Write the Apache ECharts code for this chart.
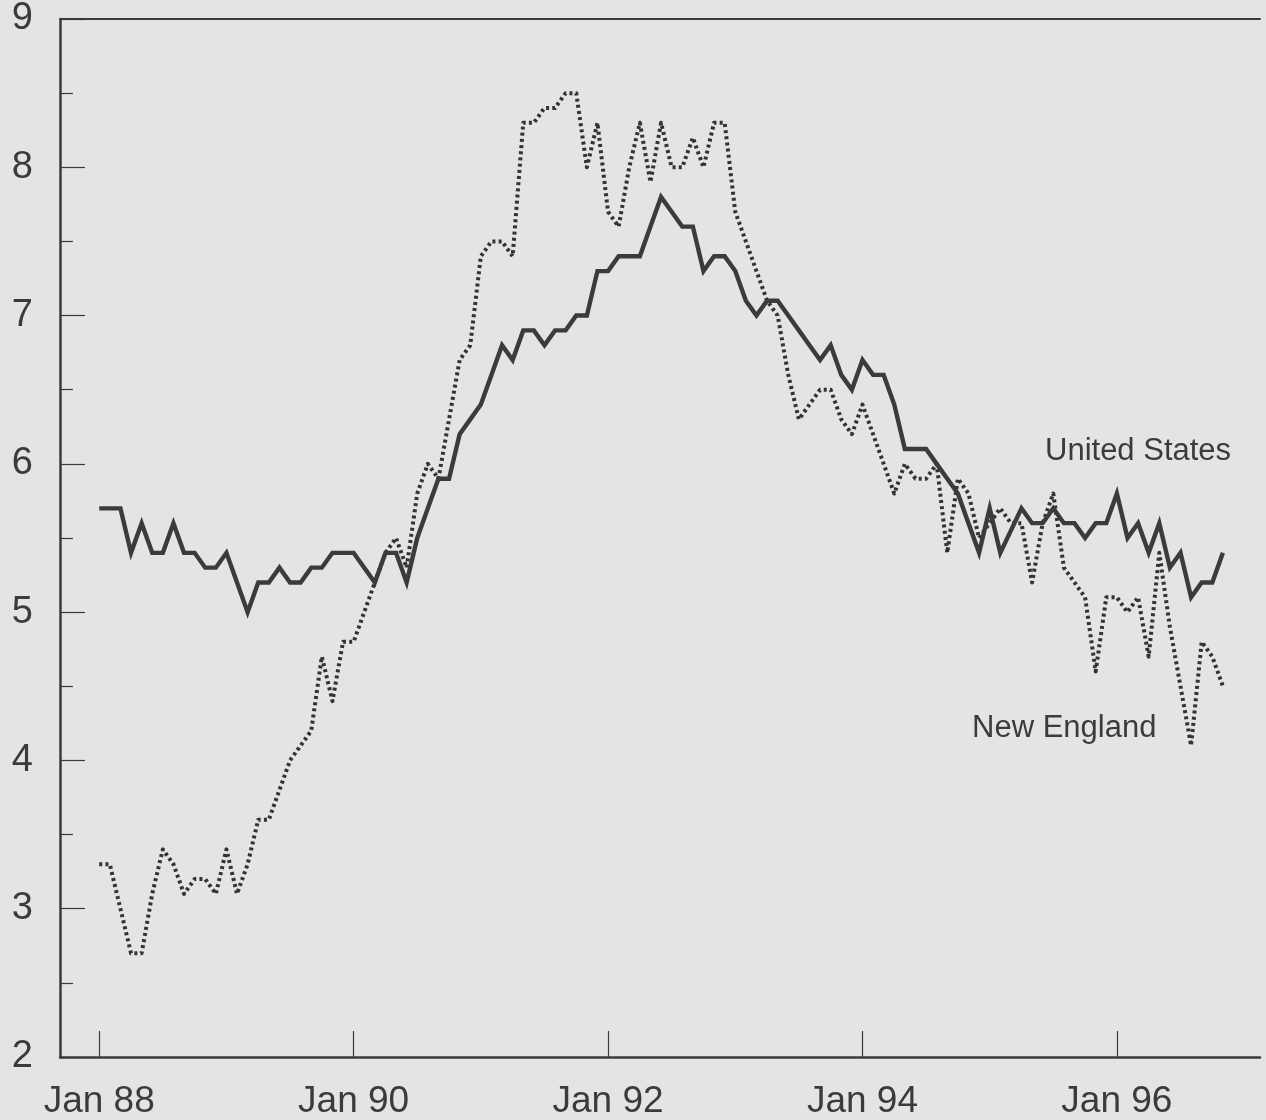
<!DOCTYPE html>
<html>
<head>
<meta charset="utf-8">
<script src="https://cdn.jsdelivr.net/npm/echarts@6/dist/echarts.min.js"></script>
<style>
  html, body { margin: 0; padding: 0; background: #e3e4e6; }
  #chart { width: 1266px; height: 1120px; }
</style>
</head>
<body>
<div id="chart"></div>
<script>
// Month index 0 = Jan 1988
const usRate = [
  5.7, 5.7, 5.7, 5.4, 5.6, 5.4, 5.4, 5.6, 5.4, 5.4, 5.3, 5.3,   // 1988
  5.4, 5.2, 5.0, 5.2, 5.2, 5.3, 5.2, 5.2, 5.3, 5.3, 5.4, 5.4,   // 1989
  5.4, 5.3, 5.2, 5.4, 5.4, 5.2, 5.5, 5.7, 5.9, 5.9, 6.2, 6.3,   // 1990
  6.4, 6.6, 6.8, 6.7, 6.9, 6.9, 6.8, 6.9, 6.9, 7.0, 7.0, 7.3,   // 1991
  7.3, 7.4, 7.4, 7.4, 7.6, 7.8, 7.7, 7.6, 7.6, 7.3, 7.4, 7.4,   // 1992
  7.3, 7.1, 7.0, 7.1, 7.1, 7.0, 6.9, 6.8, 6.7, 6.8, 6.6, 6.5,   // 1993
  6.7, 6.6, 6.6, 6.4, 6.1, 6.1, 6.1, 6.0, 5.9, 5.8, 5.6, 5.4,   // 1994
  5.7, 5.4, 5.55, 5.7, 5.6, 5.6, 5.7, 5.6, 5.6, 5.5, 5.6, 5.6,  // 1995
  5.8, 5.5, 5.6, 5.4, 5.6, 5.3, 5.4, 5.1, 5.2, 5.2, 5.4         // 1996
];
const neRate = [
  3.3, 3.3, 3.0, 2.7, 2.7, 3.1, 3.4, 3.3, 3.1, 3.2, 3.2, 3.1,   // 1988
  3.4, 3.1, 3.3, 3.6, 3.6, 3.8, 4.0, 4.1, 4.2, 4.7, 4.4, 4.8,   // 1989
  4.8, 5.0, 5.2, 5.4, 5.5, 5.3, 5.8, 6.0, 5.9, 6.3, 6.7, 6.8,   // 1990
  7.4, 7.5, 7.5, 7.4, 8.3, 8.3, 8.4, 8.4, 8.5, 8.5, 8.0, 8.3,   // 1991
  7.7, 7.6, 8.0, 8.3, 7.9, 8.3, 8.0, 8.0, 8.2, 8.0, 8.3, 8.3,   // 1992
  7.7, 7.5, 7.3, 7.1, 7.0, 6.6, 6.3, 6.4, 6.5, 6.5, 6.3, 6.2,   // 1993
  6.4, 6.2, 6.0, 5.8, 6.0, 5.9, 5.9, 6.0, 5.4, 5.9, 5.8, 5.5,   // 1994
  5.6, 5.7, 5.6, 5.6, 5.2, 5.6, 5.8, 5.3, 5.2, 5.1, 4.6, 5.1,   // 1995
  5.1, 5.0, 5.1, 4.7, 5.4, 4.9, 4.5, 4.1, 4.8, 4.7, 4.5         // 1996
];
const tickMonths = [0, 24, 48, 72, 96];
const tickLabels = ['Jan 88', 'Jan 90', 'Jan 92', 'Jan 94', 'Jan 96'];
const yTicks = [2, 3, 4, 5, 6, 7, 8, 9];
const seriesNames = ['United States', 'New England'];

const usData = usRate.map((v, i) => [i, v]);
const neData = neRate.map((v, i) => [i, v]);

const ink = '#3b3b3b';
const FONT = '"Liberation Sans", Arial, sans-serif';

const chart = echarts.init(document.getElementById('chart'), null, { renderer: 'canvas' });
chart.setOption({
  animation: false,
  backgroundColor: '#e3e4e6',
  grid: { left: 60, right: 6, top: 19, bottom: 62, containLabel: false },
  xAxis: [{
    type: 'value',
    min: -3.7,
    max: 109.5,
    position: 'bottom',
    splitLine: { show: false },
    axisLine: { show: true, onZero: false, lineStyle: { color: ink, width: 2.5 } },
    axisTick: { show: true, inside: true, length: 26, customValues: tickMonths, lineStyle: { color: ink, width: 1.2 } },
    axisLabel: {
      show: true, customValues: tickMonths, margin: 26,
      formatter: (v) => tickLabels[tickMonths.indexOf(Math.round(v))] || '',
      color: ink, fontSize: 37, fontFamily: FONT
    }
  }, {
    type: 'value',
    min: -3.7,
    max: 109.5,
    position: 'top',
    splitLine: { show: false },
    axisLine: { show: true, onZero: false, lineStyle: { color: ink, width: 2 } },
    axisTick: { show: false },
    axisLabel: { show: false }
  }],
  yAxis: {
    type: 'value',
    min: yTicks[0],
    max: yTicks[yTicks.length - 1],
    interval: 1,
    splitLine: { show: false },
    axisLine: { show: true, onZero: false, lineStyle: { color: ink, width: 2.5 } },
    axisTick: { show: true, inside: true, length: 25, lineStyle: { color: ink, width: 1.2 } },
    minorTick: { show: true, splitNumber: 2, length: 13, lineStyle: { color: ink, width: 1.2 } },
    axisLabel: { margin: 27, color: ink, fontSize: 38, fontFamily: FONT }
  },
  series: [{
    name: seriesNames[0],
    type: 'line',
    data: usData,
    showSymbol: false,
    lineStyle: { color: ink, width: 4.4, join: 'miter' },
    z: 3
  }, {
    name: seriesNames[1],
    type: 'line',
    data: neData,
    showSymbol: false,
    lineStyle: { color: '#333333', width: 4, type: [3, 3.2], cap: 'butt', join: 'round' },
    z: 2
  }],
  graphic: [{
    type: 'text', left: 1045, top: 436,
    style: { text: seriesNames[0], font: '31px ' + FONT, fill: ink }
  }, {
    type: 'text', left: 972, top: 713,
    style: { text: seriesNames[1], font: '31px ' + FONT, fill: ink }
  }]
});
</script>
</body>
</html>
